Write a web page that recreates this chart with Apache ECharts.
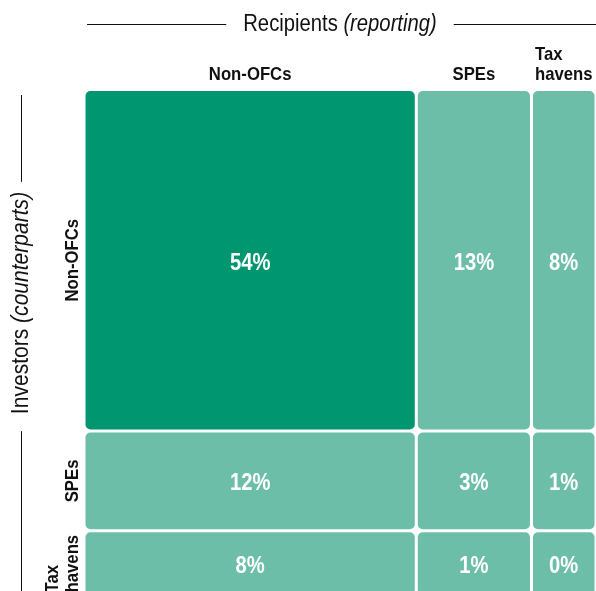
<!DOCTYPE html>
<html>
<head>
<meta charset="utf-8">
<script src="https://cdn.jsdelivr.net/npm/echarts@6/dist/echarts.min.js"></script>
<style>
  html, body { margin: 0; padding: 0; background: #ffffff; }
  #chart { width: 596px; height: 591px; }
</style>
</head>
<body>
<div id="chart"></div>
<script>
// Recipient economies (columns) and investor economies (rows)
const recipients = ['Non-OFCs', 'SPEs', 'Tax\nhavens'];
const investors = ['Non-OFCs', 'SPEs', 'Tax\nhavens'];

// Share of total positions (%), one array per investor row, ordered by recipient
const fromNonOFCs = [54, 13, 8];
const fromSPEs = [12, 3, 1];
const fromTaxHavens = [8, 1, 0];

// Relative widths of the recipient columns and heights of the investor rows
const colSpan = [64.9, 22.5, 12.6];
const rowSpan = [68.1, 19.9, 13.1];

const FONT = "'Liberation Sans', Arial, sans-serif";
const NARROW = 0.88;          // horizontal squeeze for a condensed look
const DARK = '#00966F';
const LIGHT = '#6DBEA8';
const INK = '#111111';
const GAP = 1.5;

const rows = [fromNonOFCs, fromSPEs, fromTaxHavens];
const cumulative = spans => spans.reduce((acc, s) => { acc.push(acc[acc.length - 1] + s); return acc; }, [0]);
const colEdge = cumulative(colSpan);
const rowEdge = cumulative(rowSpan);

// one record per cell: [x0, x1, y0, y1, value, rowIndex, colIndex]
const cells = [];
rows.forEach((vals, r) => vals.forEach((v, c) => {
  cells.push([colEdge[c], colEdge[c + 1], rowEdge[r], rowEdge[r + 1], v, r, c]);
}));

const measure = (() => {
  const ctx = document.createElement('canvas').getContext('2d');
  return (text, font) => {
    ctx.font = font;
    return NARROW * Math.max(...text.split('\n').map(l => ctx.measureText(l).width));
  };
})();

const HEAD_FONT = 'bold 19px ' + FONT;
const VALUE_FONT = 'bold 23px ' + FONT;

function renderCell(params, api) {
  const x0 = api.value(0), x1 = api.value(1), y0 = api.value(2), y1 = api.value(3);
  const v = api.value(4), r = api.value(5), c = api.value(6);
  const p0 = api.coord([x0, y0]);
  const p1 = api.coord([x1, y1]);
  const left = p0[0] + GAP, top = p0[1] + GAP;
  const w = p1[0] - p0[0] - 2 * GAP, h = p1[1] - p0[1] - 2 * GAP;
  const children = [{
    type: 'rect',
    shape: { x: left, y: top, width: w, height: h, r: 5 },
    style: { fill: (r === 0 && c === 0) ? DARK : LIGHT }
  }, {
    type: 'text',
    x: left + w / 2,
    y: top + h / 2 + 3,
    scaleX: NARROW,
    style: {
      text: v + '%', fill: '#ffffff', font: VALUE_FONT,
      align: 'center', verticalAlign: 'middle'
    }
  }];
  if (r === 0) {
    const label = recipients[c];
    const tw = measure(label, HEAD_FONT);
    children.push({
      type: 'text',
      x: left + w / 2 - tw / 2,
      y: p0[1] - 5,
      scaleX: NARROW,
      style: {
        text: label, fill: INK, font: HEAD_FONT,
        align: 'left', verticalAlign: 'bottom', lineHeight: 20
      }
    });
  }
  if (c === 0) {
    const label = investors[r];
    const tw = measure(label, HEAD_FONT);
    children.push({
      type: 'text',
      x: p0[0] - 1,
      y: top + h / 2 + tw / 2,
      rotation: Math.PI / 2,
      scaleX: NARROW,
      style: {
        text: label, fill: INK, font: HEAD_FONT,
        align: 'left', verticalAlign: 'bottom', lineHeight: 20
      }
    });
  }
  return { type: 'group', children };
}

const chart = echarts.init(document.getElementById('chart'), null, { renderer: 'canvas' });

chart.setOption({
  animation: false,
  backgroundColor: '#ffffff',
  grid: { left: 84, top: 89.5, right: 0, bottom: 0 },
  xAxis: { type: 'value', min: 0, max: 100, show: false },
  yAxis: { type: 'value', min: 0, max: 100, inverse: true, show: false },
  series: [{
    type: 'custom',
    renderItem: renderCell,
    data: cells,
    clip: false,
    encode: { x: [0, 1], y: [2, 3] }
  }]
});

// Axis titles with their rule lines, placed from the grid's pixel extent
const topLeft = chart.convertToPixel({ gridIndex: 0 }, [0, 0]);
const topRight = chart.convertToPixel({ gridIndex: 0 }, [100, 0]);
const TITLE_FONT = '23px ' + FONT;
const TITLE_IT = 'italic 23px ' + FONT;

const xTitleW = measure('Recipients ', TITLE_FONT) + measure('(reporting)', TITLE_IT);
const xMid = (topLeft[0] + topRight[0]) / 2;
const xTitleY = 24.5;

const yTitleW = measure('Investors ', TITLE_FONT) + measure('(counterparts)', TITLE_IT);
const yMid = 303;
const yTitleX = 21.5;

const titleText = (x, y, rotation, main, italic, squeeze) => ({
  type: 'text', x, y, rotation, scaleX: squeeze,
  style: {
    text: main + ' {i|' + italic + '}', font: TITLE_FONT, fill: INK,
    align: 'center', verticalAlign: 'middle',
    rich: { i: { font: TITLE_IT, fill: INK } }
  }
});
const rule = (x1, y1, x2, y2) => ({
  type: 'line', shape: { x1, y1, x2, y2 }, style: { stroke: INK, lineWidth: 1 }
});

chart.setOption({
  graphic: [
    titleText(xMid, xTitleY, 0, 'Recipients', '(reporting)', NARROW),
    rule(topLeft[0] + 3, xTitleY, xMid - xTitleW / 2 - 17, xTitleY),
    rule(xMid + xTitleW / 2 + 17, xTitleY, topRight[0], xTitleY),
    titleText(yTitleX, yMid, Math.PI / 2, 'Investors', '(counterparts)', NARROW * 1.04),
    rule(yTitleX, topLeft[1] + 5.5, yTitleX, yMid - yTitleW * 1.04 / 2 - 10),
    rule(yTitleX, yMid + yTitleW * 1.04 / 2 + 17, yTitleX, 600)
  ]
});
</script>
</body>
</html>
